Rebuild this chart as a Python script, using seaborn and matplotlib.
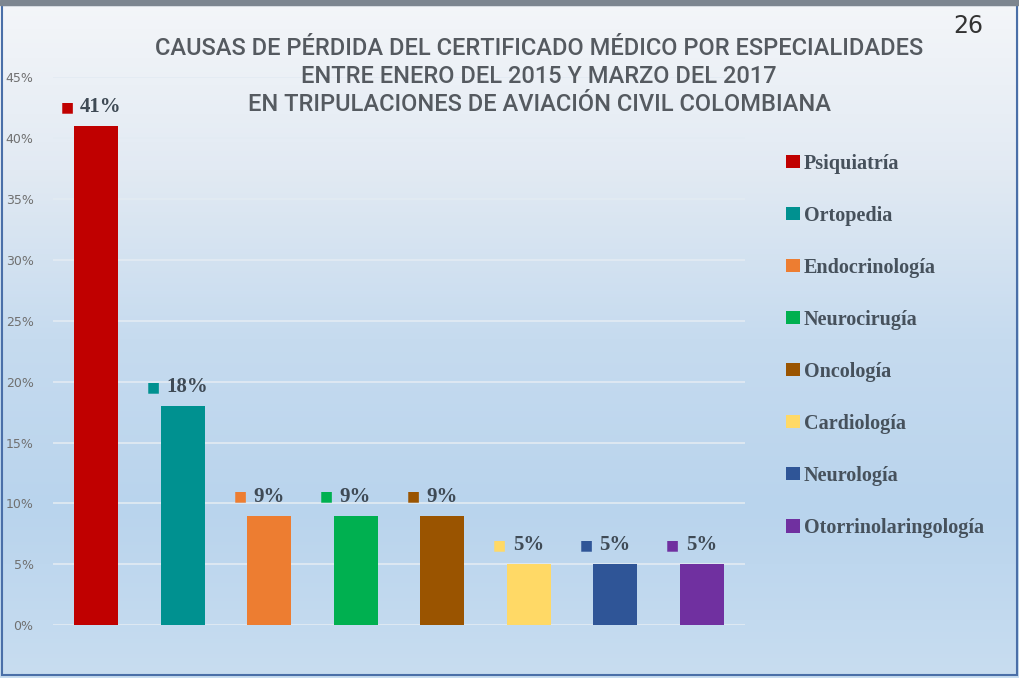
import numpy as np
import pandas as pd
import seaborn as sns
from matplotlib import pyplot as plt
from matplotlib.patches import Patch, Rectangle
from matplotlib.colors import LinearSegmentedColormap

especialidades = ['Psiquiatría', 'Ortopedia', 'Endocrinología', 'Neurocirugía',
                  'Oncología', 'Cardiología', 'Neurología', 'Otorrinolaringología']
porcentajes = [41, 18, 9, 9, 9, 5, 5, 5]
colores = ['#c00000', '#009190', '#ed7d31', '#00b050',
           '#9a5400', '#ffd966', '#2f5597', '#7030a0']
yticks = [0, 5, 10, 15, 20, 25, 30, 35, 40, 45]
titulo = ('CAUSAS DE PÉRDIDA DEL CERTIFICADO MÉDICO POR ESPECIALIDADES\n'
          'ENTRE ENERO DEL 2015 Y MARZO DEL 2017\n'
          'EN TRIPULACIONES DE AVIACIÓN CIVIL COLOMBIANA')

df = pd.DataFrame({'especialidad': especialidades, 'pct': porcentajes})

sns.set_theme(style='white')
plt.rcParams['font.family'] = ['DejaVu Sans']
serif = ['Liberation Serif', 'DejaVu Serif']

fig = plt.figure(figsize=(10.19, 6.78), dpi=100)

# slide background gradient
bg = fig.add_axes([0, 0, 1, 1], zorder=-10)
grad = LinearSegmentedColormap.from_list(
    'slide', ['#f4f6f9', '#e2eaf3', '#c6dbef', '#b9d4ed', '#c8ddf0'])
bg.imshow(np.linspace(0, 1, 256).reshape(-1, 1), aspect='auto', cmap=grad,
          extent=[0, 1, 0, 1], origin='upper')
bg.set_axis_off()
bg.add_patch(Rectangle((0.002, 0.004), 0.996, 0.988, fill=False,
                       edgecolor='#4a6fa8', linewidth=1.5, transform=bg.transAxes))
bg.add_patch(Rectangle((0, 0.993), 1, 0.007, color='#7d8690', transform=bg.transAxes))

ax = fig.add_axes([0.052, 0.078, 0.679, 0.808])
ax.patch.set_alpha(0)
sns.barplot(data=df, x='especialidad', y='pct', hue='especialidad',
            palette=colores, saturation=1, width=0.51, legend=False, ax=ax,
            zorder=3, linewidth=0, edgecolor='none')

ax.set_ylim(0, 45)
ax.set_xlim(-0.5, len(especialidades) - 0.5)
ax.set_yticks(yticks)
ax.set_yticklabels([f'{t}%' for t in yticks], color='#707070', fontsize=9)
ax.set_xticks([])
ax.set_xlabel('')
ax.set_ylabel('')
ax.tick_params(axis='y', length=0, pad=14)
for t in yticks:
    ax.axhline(t, color='#e3ebf3', linewidth=1.2, zorder=1)
for s in ax.spines.values():
    s.set_visible(False)

for i, (v, c) in enumerate(zip(porcentajes, colores)):
    ax.annotate('■', (i, v), xytext=(-29, 19), textcoords='offset pixels',
                ha='center', va='center', color=c, fontsize=10)
    ax.annotate(f'{v}%', (i, v), xytext=(-16, 19), textcoords='offset pixels',
                ha='left', va='center', color='#3f4a55', fontsize=15,
                fontweight='bold', family=serif)

handles = [Patch(facecolor=c, edgecolor='none', label=e)
           for e, c in zip(especialidades, colores)]
leg = fig.legend(handles=handles, loc='upper left', bbox_to_anchor=(0.754, 0.8),
                 frameon=False, handlelength=0.65, handleheight=0.65, handletextpad=0.2,
                 labelspacing=1.59,
                 prop={'family': serif, 'weight': 'bold', 'size': 14.5})
for t in leg.get_texts():
    t.set_color('#46515c')

fig.text(0.529, 0.946, titulo, ha='center', va='top', color='#555a60', fontsize=17,
         linespacing=1.3, fontweight='medium', family=['Roboto', 'DejaVu Sans'])
fig.text(0.95, 0.962, '26', ha='center', va='center', color='#333333', fontsize=17)

fig.savefig('out.png', dpi=100)
